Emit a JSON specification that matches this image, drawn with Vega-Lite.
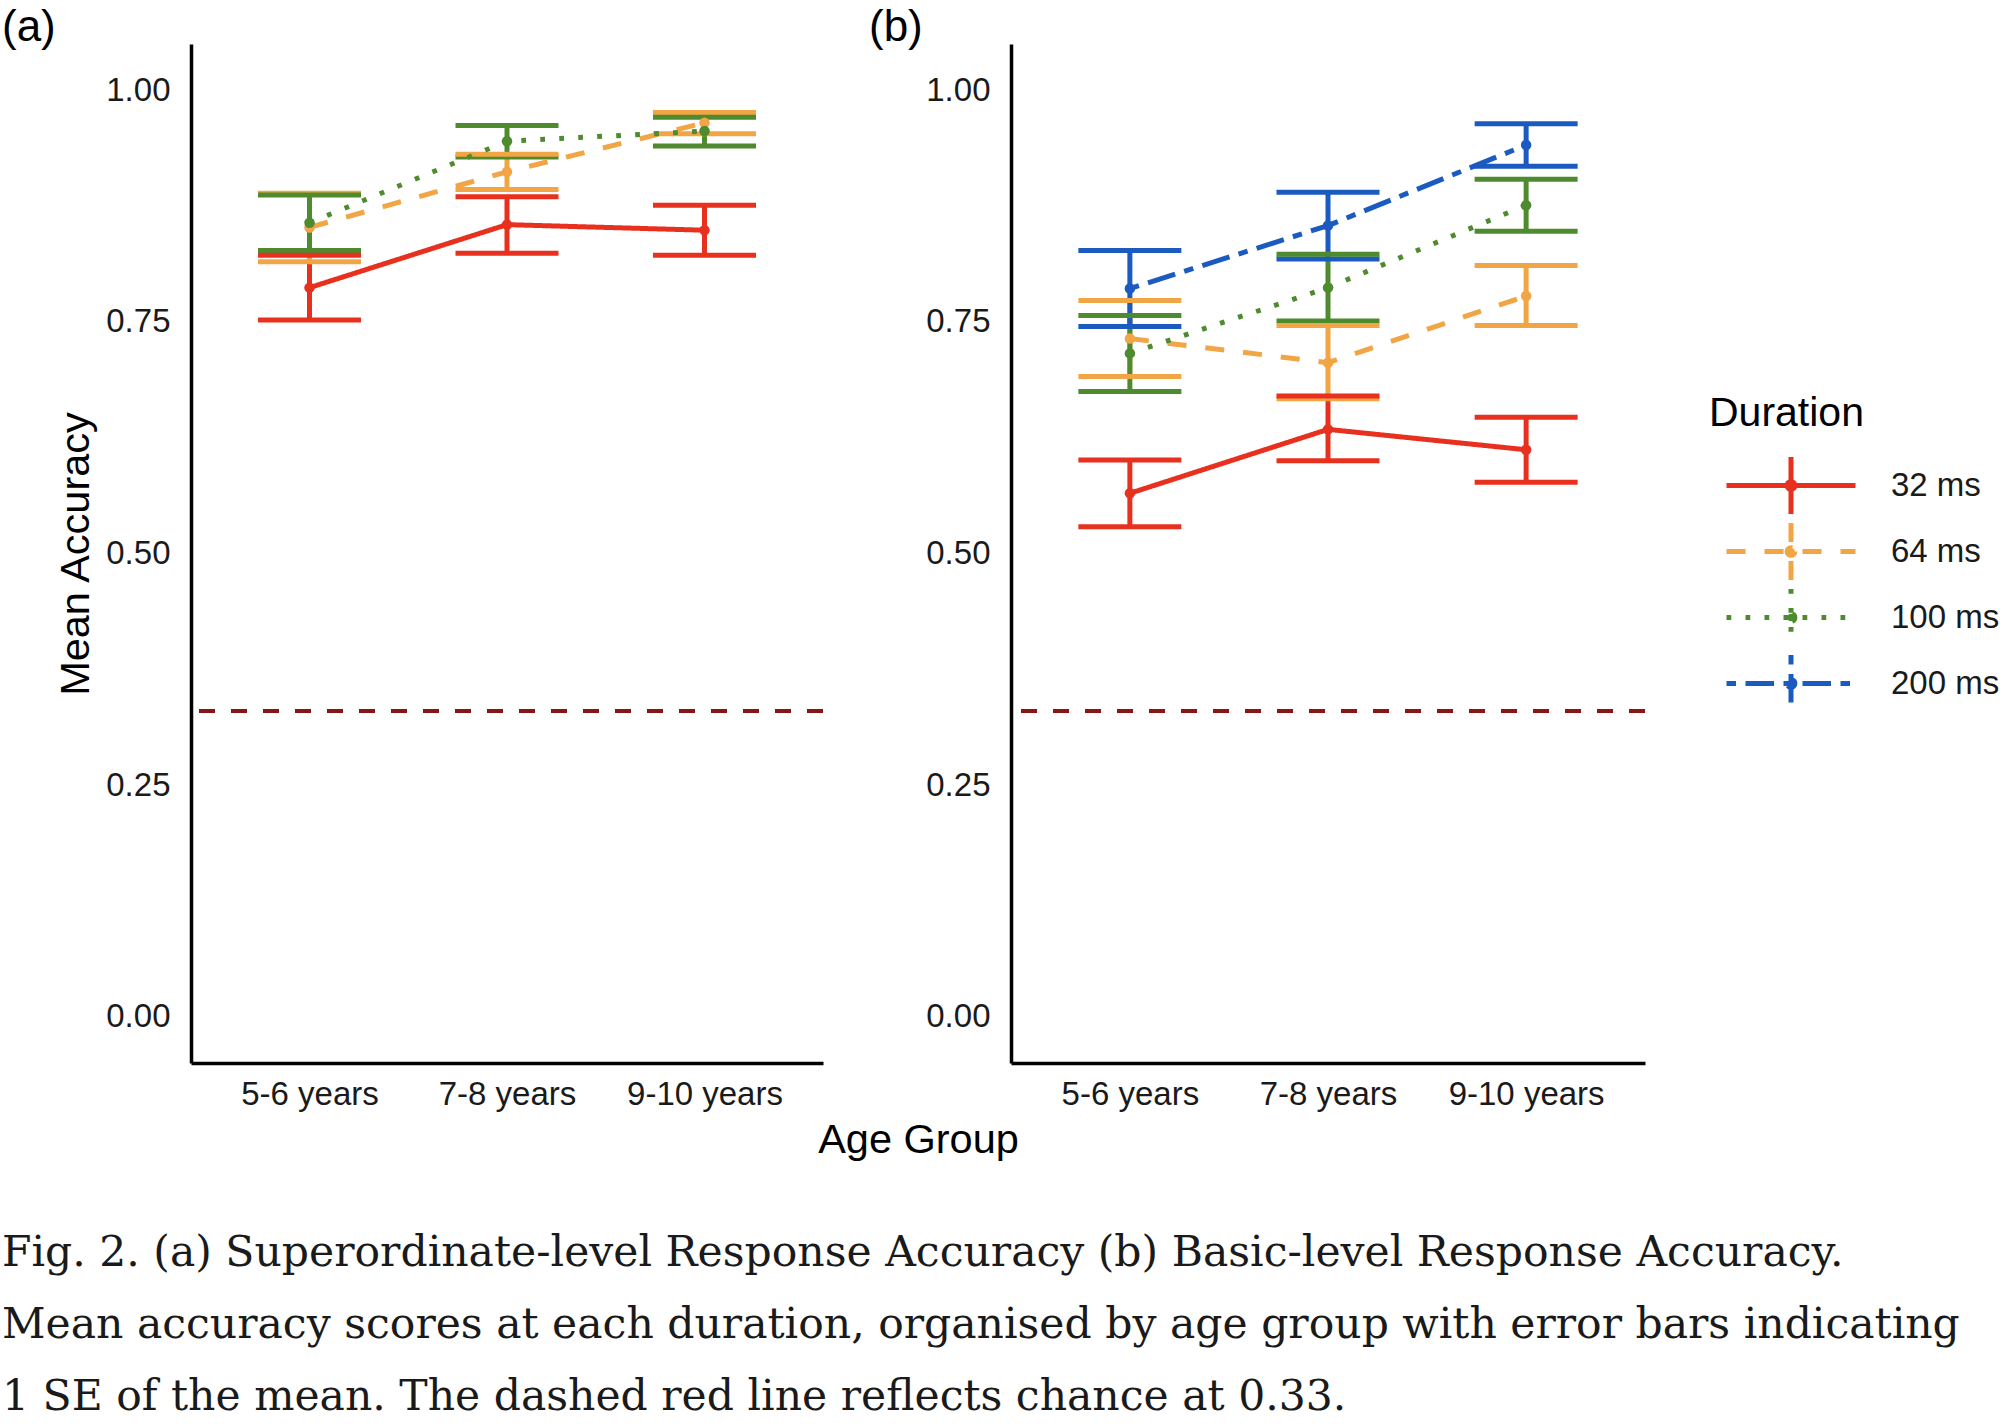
{
  "$schema": "https://vega.github.io/schema/vega-lite/v6.json",
  "background": "white",
  "padding": {"left": 2, "top": 5, "right": 0, "bottom": 0},
  "bounds": "flush",
  "spacing": 188,
  "datasets": {
    "acc": [
      {"panel": "a", "age": "5-6 years", "duration": "32 ms", "mean": 0.787, "lower": 0.752, "upper": 0.822},
      {"panel": "a", "age": "7-8 years", "duration": "32 ms", "mean": 0.855, "lower": 0.824, "upper": 0.885},
      {"panel": "a", "age": "9-10 years", "duration": "32 ms", "mean": 0.849, "lower": 0.822, "upper": 0.876},
      {"panel": "a", "age": "5-6 years", "duration": "64 ms", "mean": 0.852, "lower": 0.815, "upper": 0.889},
      {"panel": "a", "age": "7-8 years", "duration": "64 ms", "mean": 0.912, "lower": 0.893, "upper": 0.931},
      {"panel": "a", "age": "9-10 years", "duration": "64 ms", "mean": 0.965, "lower": 0.953, "upper": 0.976},
      {"panel": "a", "age": "5-6 years", "duration": "100 ms", "mean": 0.857, "lower": 0.827, "upper": 0.887},
      {"panel": "a", "age": "7-8 years", "duration": "100 ms", "mean": 0.945, "lower": 0.928, "upper": 0.962},
      {"panel": "a", "age": "9-10 years", "duration": "100 ms", "mean": 0.956, "lower": 0.940, "upper": 0.971},
      {"panel": "b", "age": "5-6 years", "duration": "32 ms", "mean": 0.565, "lower": 0.529, "upper": 0.601},
      {"panel": "b", "age": "7-8 years", "duration": "32 ms", "mean": 0.634, "lower": 0.600, "upper": 0.670},
      {"panel": "b", "age": "9-10 years", "duration": "32 ms", "mean": 0.612, "lower": 0.577, "upper": 0.647},
      {"panel": "b", "age": "5-6 years", "duration": "64 ms", "mean": 0.732, "lower": 0.691, "upper": 0.773},
      {"panel": "b", "age": "7-8 years", "duration": "64 ms", "mean": 0.706, "lower": 0.667, "upper": 0.746},
      {"panel": "b", "age": "9-10 years", "duration": "64 ms", "mean": 0.778, "lower": 0.746, "upper": 0.811},
      {"panel": "b", "age": "5-6 years", "duration": "100 ms", "mean": 0.716, "lower": 0.675, "upper": 0.757},
      {"panel": "b", "age": "7-8 years", "duration": "100 ms", "mean": 0.787, "lower": 0.751, "upper": 0.823},
      {"panel": "b", "age": "9-10 years", "duration": "100 ms", "mean": 0.876, "lower": 0.848, "upper": 0.904},
      {"panel": "b", "age": "5-6 years", "duration": "200 ms", "mean": 0.786, "lower": 0.745, "upper": 0.827},
      {"panel": "b", "age": "7-8 years", "duration": "200 ms", "mean": 0.854, "lower": 0.818, "upper": 0.890},
      {"panel": "b", "age": "9-10 years", "duration": "200 ms", "mean": 0.941, "lower": 0.918, "upper": 0.964}
    ]
  },
  "title": {
    "text": [
      "Fig. 2. (a) Superordinate-level Response Accuracy (b) Basic-level Response Accuracy.",
      "Mean accuracy scores at each duration, organised by age group with error bars indicating",
      "1 SE of the mean. The dashed red line reflects chance at 0.33."
    ],
    "orient": "bottom",
    "anchor": "start",
    "frame": "group",
    "dx": -189,
    "offset": 71,
    "font": "DejaVu Serif",
    "fontSize": 42.5,
    "fontWeight": "normal",
    "lineHeight": 72,
    "color": "#1a1a1a"
  },
  "config": {
    "view": {"stroke": null},
    "font": "Liberation Sans",
    "axis": {
      "domainColor": "black",
      "domainWidth": 3.5,
      "ticks": false,
      "tickSize": 0,
      "grid": false,
      "labelColor": "#1a1a1a",
      "labelFont": "Liberation Sans",
      "labelFontSize": 33,
      "titleFont": "Liberation Sans",
      "titleFontSize": 41.5,
      "titleFontWeight": "normal",
      "titleColor": "black"
    },
    "legend": {
      "orient": "none", "legendX": 1518, "legendY": 350,
      "titleFontSize": 41, "titleFontWeight": "normal", "titleColor": "black", "titleFont": "Liberation Sans",
      "labelFontSize": 33, "labelColor": "#1a1a1a", "labelFont": "Liberation Sans",
      "symbolType": "M-2,0H2M0,-0.88V0.88M0.12,0A0.12,0.12,0,1,1,-0.12,0A0.12,0.12,0,1,1,0.12,0Z", "symbolSize": 4160, "symbolStrokeWidth": 5,
      "symbolOffset": 47, "labelOffset": 65, "rowPadding": 5, "clipHeight": 61, "titlePadding": 20, "padding": 0
    },
    "title": {"font": "Liberation Sans", "fontWeight": "normal", "color": "black"}
  },
  "hconcat": [
    {
      "width": 632,
      "height": 1019,
      "title": {"text": "(a)", "anchor": "start", "frame": "group", "dx": -189, "fontSize": 44, "offset": -5.5},
      "data": {"name": "acc"},
      "transform": [{"filter": "datum.panel == 'a'"}],
      "encoding": {
        "x": {
          "field": "age", "type": "ordinal",
          "sort": ["5-6 years", "7-8 years", "9-10 years"],
          "scale": {"type": "point", "padding": 0.6},
          "axis": {"title": "Age Group", "titleX": 727, "titleAlign": "center", "titlePadding": 8.5, "labelAngle": 0, "labelPadding": 15}
        },
        "color": {"field": "duration", "type": "nominal", "title": "Duration",
          "scale": {"domain": ["32 ms", "64 ms", "100 ms", "200 ms"], "range": ["#E8301F", "#F2A545", "#4E8A2E", "#1B5BC1"]},
          "legend": {"symbolType": "M-2,0H2M0,-0.88V0.88M0.12,0A0.12,0.12,0,1,1,-0.12,0A0.12,0.12,0,1,1,0.12,0Z", "symbolSize": 4160, "symbolStrokeWidth": 5}}
      },
      "layer": [
        {
          "mark": {"type": "rule", "color": "#8B1414", "strokeDash": [16, 16], "strokeWidth": 3.5},
          "encoding": {"x": null, "color": null, "y": {"datum": 0.33, "type": "quantitative", "scale": {"domain": [-0.05, 1.05], "nice": false, "zero": false}, "axis": {"values": [0, 0.25, 0.5, 0.75, 1], "format": ".2f", "title": "Mean Accuracy", "labelPadding": 21, "titlePadding": 8}}}
        },
        {
          "mark": {"type": "rule", "strokeWidth": 5},
          "encoding": {
            "y": {"field": "lower", "type": "quantitative"},
            "y2": {"field": "upper"}
          }
        },
        {
          "mark": {"type": "tick", "size": 103, "thickness": 5, "orient": "horizontal", "opacity": 1},
          "encoding": {"y": {"field": "lower", "type": "quantitative"}}
        },
        {
          "mark": {"type": "tick", "size": 103, "thickness": 5, "orient": "horizontal", "opacity": 1},
          "encoding": {"y": {"field": "upper", "type": "quantitative"}}
        },
        {
          "mark": {"type": "line", "strokeWidth": 5},
          "encoding": {
            "y": {"field": "mean", "type": "quantitative"},
            "strokeDash": {"field": "duration", "type": "nominal", "title": "Duration",
              "scale": {"domain": ["32 ms", "64 ms", "100 ms", "200 ms"], "range": [[1, 0], [19, 19], [4.75, 14.25], [9.5, 9.5, 28.5, 9.5]]},
              "legend": {"symbolType": "M-2,0H2M0,-0.88V0.88M0.12,0A0.12,0.12,0,1,1,-0.12,0A0.12,0.12,0,1,1,0.12,0Z", "symbolSize": 4160, "symbolStrokeWidth": 5}}
          }
        },
        {
          "mark": {"type": "point", "filled": true, "opacity": 1, "size": 110},
          "encoding": {"y": {"field": "mean", "type": "quantitative"}}
        }
      ]
    },
    {
      "width": 634,
      "height": 1019,
      "title": {"text": "(b)", "anchor": "start", "frame": "group", "dx": -142, "fontSize": 44, "offset": -5.5},
      "data": {"name": "acc"},
      "transform": [{"filter": "datum.panel == 'b'"}],
      "encoding": {
        "x": {
          "field": "age", "type": "ordinal",
          "sort": ["5-6 years", "7-8 years", "9-10 years"],
          "scale": {"type": "point", "padding": 0.6},
          "axis": {"title": null, "labelAngle": 0, "labelPadding": 15}
        },
        "color": {"field": "duration", "type": "nominal", "title": "Duration",
          "scale": {"domain": ["32 ms", "64 ms", "100 ms", "200 ms"], "range": ["#E8301F", "#F2A545", "#4E8A2E", "#1B5BC1"]},
          "legend": {"symbolType": "M-2,0H2M0,-0.88V0.88M0.12,0A0.12,0.12,0,1,1,-0.12,0A0.12,0.12,0,1,1,0.12,0Z", "symbolSize": 4160, "symbolStrokeWidth": 5}}
      },
      "layer": [
        {
          "mark": {"type": "rule", "color": "#8B1414", "strokeDash": [16, 16], "strokeWidth": 3.5},
          "encoding": {"x": null, "color": null, "y": {"datum": 0.33, "type": "quantitative", "scale": {"domain": [-0.05, 1.05], "nice": false, "zero": false}, "axis": {"values": [0, 0.25, 0.5, 0.75, 1], "format": ".2f", "title": null, "labelPadding": 21}}}
        },
        {
          "mark": {"type": "rule", "strokeWidth": 5},
          "encoding": {
            "y": {"field": "lower", "type": "quantitative"},
            "y2": {"field": "upper"}
          }
        },
        {
          "mark": {"type": "tick", "size": 103, "thickness": 5, "orient": "horizontal", "opacity": 1},
          "encoding": {"y": {"field": "lower", "type": "quantitative"}}
        },
        {
          "mark": {"type": "tick", "size": 103, "thickness": 5, "orient": "horizontal", "opacity": 1},
          "encoding": {"y": {"field": "upper", "type": "quantitative"}}
        },
        {
          "mark": {"type": "line", "strokeWidth": 5},
          "encoding": {
            "y": {"field": "mean", "type": "quantitative"},
            "strokeDash": {"field": "duration", "type": "nominal", "title": "Duration",
              "scale": {"domain": ["32 ms", "64 ms", "100 ms", "200 ms"], "range": [[1, 0], [19, 19], [4.75, 14.25], [9.5, 9.5, 28.5, 9.5]]},
              "legend": {"symbolType": "M-2,0H2M0,-0.88V0.88M0.12,0A0.12,0.12,0,1,1,-0.12,0A0.12,0.12,0,1,1,0.12,0Z", "symbolSize": 4160, "symbolStrokeWidth": 5}}
          }
        },
        {
          "mark": {"type": "point", "filled": true, "opacity": 1, "size": 110},
          "encoding": {"y": {"field": "mean", "type": "quantitative"}}
        }
      ]
    }
  ]
}
